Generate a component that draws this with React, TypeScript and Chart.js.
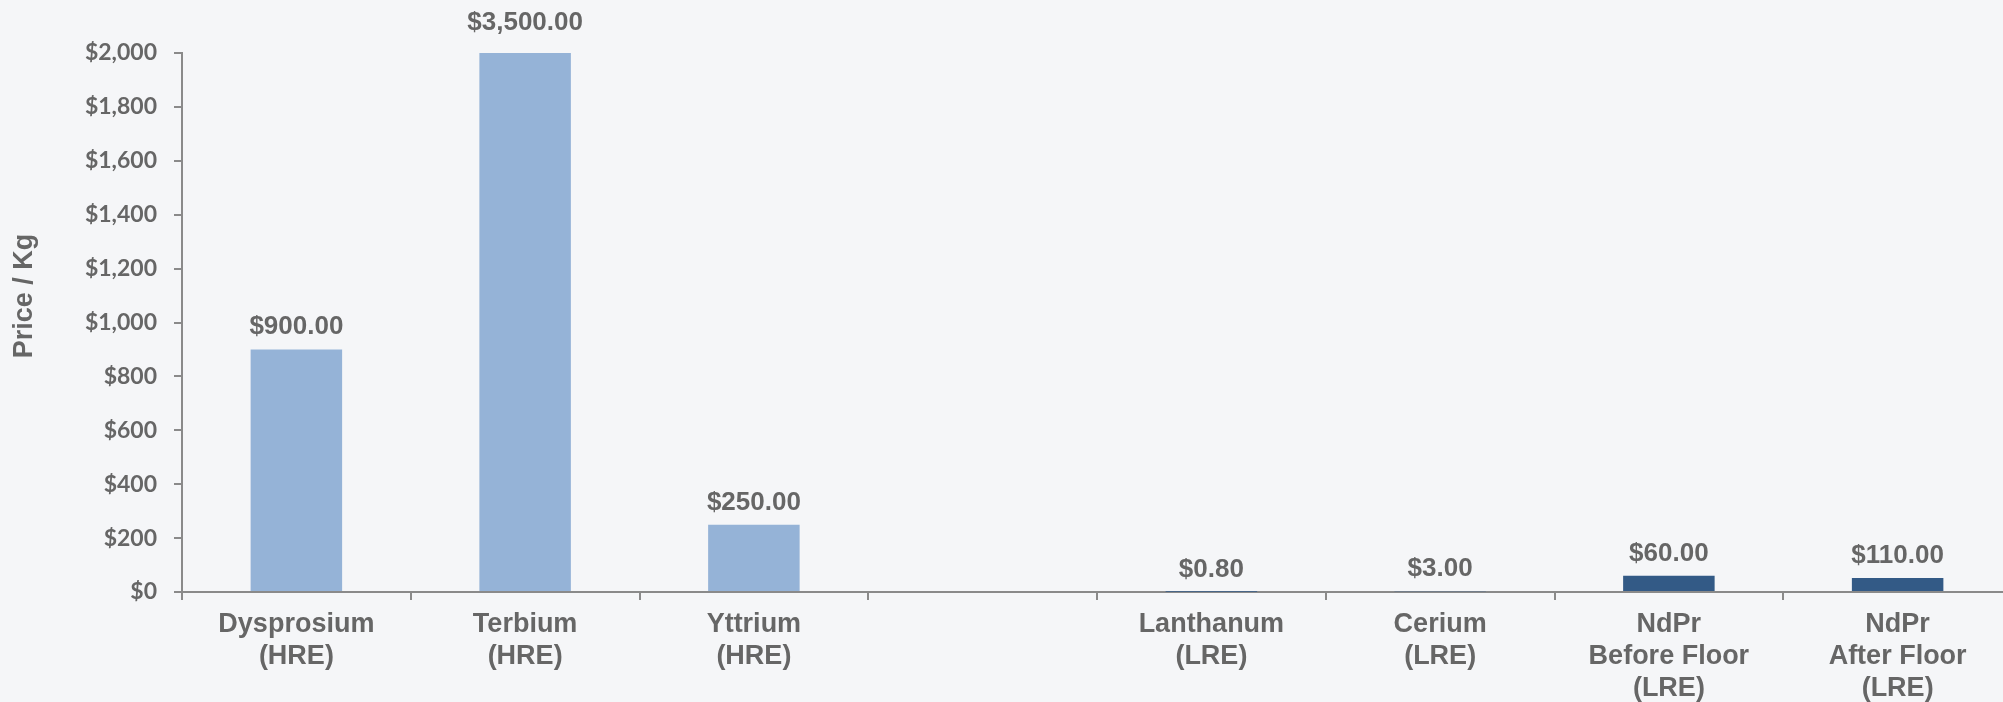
import React, { useEffect, useRef } from "react";
import { Chart, registerables } from "chart.js";
Chart.register(...registerables);

const categories: string[][] = [
  ["Dysprosium", "(HRE)"],
  ["Terbium", "(HRE)"],
  ["Yttrium", "(HRE)"],
  [""],
  ["Lanthanum", "(LRE)"],
  ["Cerium", "(LRE)"],
  ["NdPr", "Before Floor", "(LRE)"],
  ["NdPr", "After Floor", "(LRE)"],
];
const barValues: (number | null)[] = [900, 3500, 250, null, 0.8, 3, 60, 52];
const labelValues: (number | null)[] = [900, 3500, 250, null, 0.8, 3, 60, 110];
const groups: string[] = ["HRE", "HRE", "HRE", "", "LRE", "LRE", "LRE", "LRE"];
const groupColors: Record<string, string> = { HRE: "#95B3D7", LRE: "#335A86", "": "#95B3D7" };
const yMin = 0;
const yMax = 2000;
const yStep = 200;
const yTitle = "Price / Kg";

const TEXT = "#666666";
const AXIS = "#8A8A8A";
const BG = "#F5F6F8";

const fmtMoney = (v: number) =>
  "$" + v.toLocaleString("en-US", { minimumFractionDigits: 2, maximumFractionDigits: 2 });

const labelPlugin = {
  id: "valueLabels",
  afterDatasetsDraw(chart: any) {
    const ctx = chart.ctx;
    const meta = chart.getDatasetMeta(0);
    const area = chart.chartArea;
    ctx.save();
    ctx.fillStyle = TEXT;
    ctx.font = "bold 26px 'Liberation Sans', Arial, sans-serif";
    ctx.textAlign = "center";
    ctx.textBaseline = "alphabetic";
    meta.data.forEach((bar: any, i: number) => {
      const lv = labelValues[i];
      const bv = barValues[i];
      if (lv == null || bv == null) return;
      const clipped = bv > yMax;
      const y = clipped ? area.top - 23 : Math.min(bar.y, area.bottom) - 15;
      ctx.fillText(fmtMoney(lv), bar.x, y);
    });
    ctx.restore();
  },
};

const yTitlePlugin = {
  id: "yTitle",
  afterDraw(chart: any) {
    const ctx = chart.ctx;
    ctx.save();
    ctx.translate(25, 296);
    ctx.rotate(-Math.PI / 2);
    ctx.fillStyle = TEXT;
    ctx.font = "bold 27px 'Liberation Sans', Arial, sans-serif";
    ctx.textAlign = "center";
    ctx.textBaseline = "middle";
    ctx.fillText(yTitle, 0, 0);
    ctx.restore();
  },
};

export default function App() {
  const ref = useRef<HTMLCanvasElement | null>(null);
  useEffect(() => {
    if (!ref.current) return;
    const chart = new Chart(ref.current, {
      type: "bar",
      data: {
        labels: categories,
        datasets: [
          {
            data: barValues as any,
            backgroundColor: groups.map((g) => groupColors[g]),
            borderWidth: 0,
            barPercentage: 0.4,
            categoryPercentage: 1,
          },
        ],
      },
      options: {
        animation: false,
        responsive: false,
        maintainAspectRatio: false,
        layout: { padding: { top: 53, right: 0, bottom: 0, left: 0 } },
        plugins: { legend: { display: false }, tooltip: { enabled: false } },
        scales: {
          x: {
            offset: true,
            grid: {
              offset: true,
              drawOnChartArea: false,
              drawTicks: true,
              tickLength: 8,
              color: AXIS,
              lineWidth: 2,
            },
            border: { display: true, color: AXIS, width: 2 },
            ticks: {
              color: TEXT,
              padding: 8,
              maxRotation: 0,
              autoSkip: false,
              font: { family: "'Liberation Sans', Arial, sans-serif", size: 27, weight: "bold", lineHeight: 1.2 },
            },
            afterFit: (s: any) => {
              s.height = 110;
            },
          },
          y: {
            min: yMin,
            max: yMax,
            grid: {
              drawOnChartArea: false,
              drawTicks: true,
              tickLength: 8,
              color: AXIS,
              lineWidth: 2,
            },
            border: { display: true, color: AXIS, width: 2 },
            ticks: {
              stepSize: yStep,
              color: TEXT,
              padding: 17,
              font: { family: "Lato, 'Liberation Sans', sans-serif", size: 23, weight: "bold" },
              callback: (v: any) => "$" + Number(v).toLocaleString("en-US"),
            },
            afterFit: (s: any) => {
              s.width = 182;
            },
          },
        },
      },
      plugins: [labelPlugin, yTitlePlugin],
    });
    return () => chart.destroy();
  }, []);
  return (
    <div
      style={{
        position: "fixed",
        left: 0,
        top: 0,
        width: 2003,
        height: 702,
        overflow: "hidden",
        background: BG,
      }}
    >
      <canvas ref={ref} width={2012} height={702} style={{ display: "block", width: 2012, height: 702 }} />
    </div>
  );
}
